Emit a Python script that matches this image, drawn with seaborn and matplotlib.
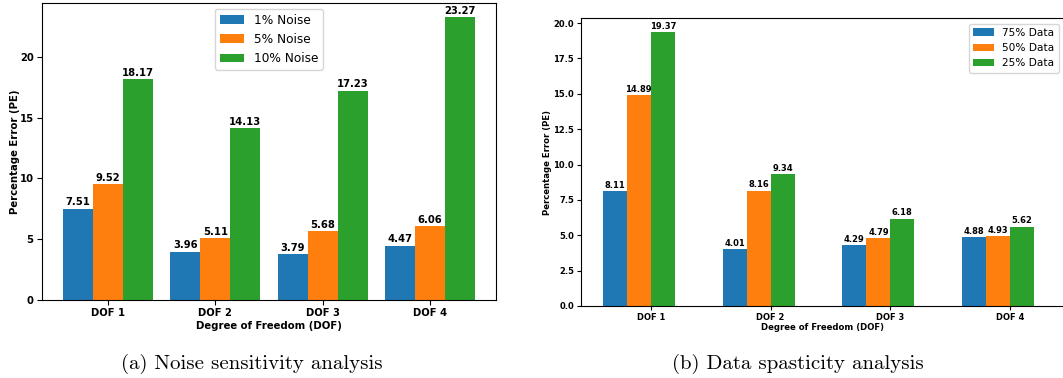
import numpy as np
import pandas as pd
import matplotlib
matplotlib.use("Agg")
import matplotlib.pyplot as plt
import seaborn as sns

# data
dof = ["DOF 1", "DOF 2", "DOF 3", "DOF 4"]
noise_levels = ["1% Noise", "5% Noise", "10% Noise"]
noise_pe = {
    "1% Noise": [7.51, 3.96, 3.79, 4.47],
    "5% Noise": [9.52, 5.11, 5.68, 6.06],
    "10% Noise": [18.17, 14.13, 17.23, 23.27],
}
data_levels = ["75% Data", "50% Data", "25% Data"]
data_pe = {
    "75% Data": [8.11, 4.01, 4.29, 4.88],
    "50% Data": [14.89, 8.16, 4.79, 4.93],
    "25% Data": [19.37, 9.34, 6.18, 5.62],
}
colors = ["#1f77b4", "#ff7f0e", "#2ca02c"]


def to_long(values, levels, name):
    rows = []
    for lvl in levels:
        for d, v in zip(dof, values[lvl]):
            rows.append({"DOF": d, name: lvl, "PE": v})
    return pd.DataFrame(rows)


df_noise = to_long(noise_pe, noise_levels, "Noise")
df_data = to_long(data_pe, data_levels, "Data")

fig = plt.figure(figsize=(10.63, 3.78), dpi=100)
ax1 = fig.add_axes([0.0395, 0.2063, 0.427, 0.7857])
ax2 = fig.add_axes([0.5466, 0.1905, 0.4544, 0.761])

# (a) noise sensitivity
sns.barplot(data=df_noise, x="DOF", y="PE", hue="Noise", hue_order=noise_levels,
            palette=colors, saturation=1, width=0.84, linewidth=0, ax=ax1)
for c in ax1.containers:
    ax1.bar_label(c, fmt="%.2f", fontsize=7.2, fontweight="bold", padding=1)
ax1.set_xlim(-0.617, 3.617)
ax1.set_ylim(0, max(noise_pe["10% Noise"]) * 1.05)
ax1.set_xlabel("Degree of Freedom (DOF)", fontsize=7.3, fontweight="bold", labelpad=2)
ax1.set_ylabel("Percentage Error (PE)", fontsize=7.3, fontweight="bold", labelpad=0)
ax1.tick_params(labelsize=7.2, pad=2.5)
for lab in ax1.get_xticklabels() + ax1.get_yticklabels():
    lab.set_fontweight("bold")
ax1.legend(loc="upper center", fontsize=8.7, title=None)

# (b) data sparsity
sns.barplot(data=df_data, x="DOF", y="PE", hue="Data", hue_order=data_levels,
            palette=colors, saturation=1, width=0.6, linewidth=0, ax=ax2)
for c in ax2.containers:
    ax2.bar_label(c, fmt="%.2f", fontsize=6, fontweight="bold", padding=1)
ax2.set_xticks(np.arange(len(dof)) + 0.1)
ax2.set_xticklabels(dof)
ax2.set_xlim(-0.482, 3.55)
ax2.set_ylim(0, max(data_pe["25% Data"]) * 1.05)
ax2.set_yticks(np.arange(0, 20.1, 2.5))
ax2.set_xlabel("Degree of Freedom (DOF)", fontsize=6.1, fontweight="bold", labelpad=1)
ax2.set_ylabel("Percentage Error (PE)", fontsize=6.1, fontweight="bold", labelpad=1)
ax2.tick_params(labelsize=6, length=3, pad=2)
for lab in ax2.get_xticklabels() + ax2.get_yticklabels():
    lab.set_fontweight("bold")
ax2.legend(loc="upper right", fontsize=7.6, title=None)

# captions
fig.text(0.2366, 0.037, "(a) Noise sensitivity analysis", ha="center", va="center",
         fontsize=15, family=["cmr10", "DejaVu Serif"])
fig.text(0.751, 0.037, "(b) Data spasticity analysis", ha="center", va="center",
         fontsize=15, family=["cmr10", "DejaVu Serif"])

fig.savefig("out.png", dpi=100)
